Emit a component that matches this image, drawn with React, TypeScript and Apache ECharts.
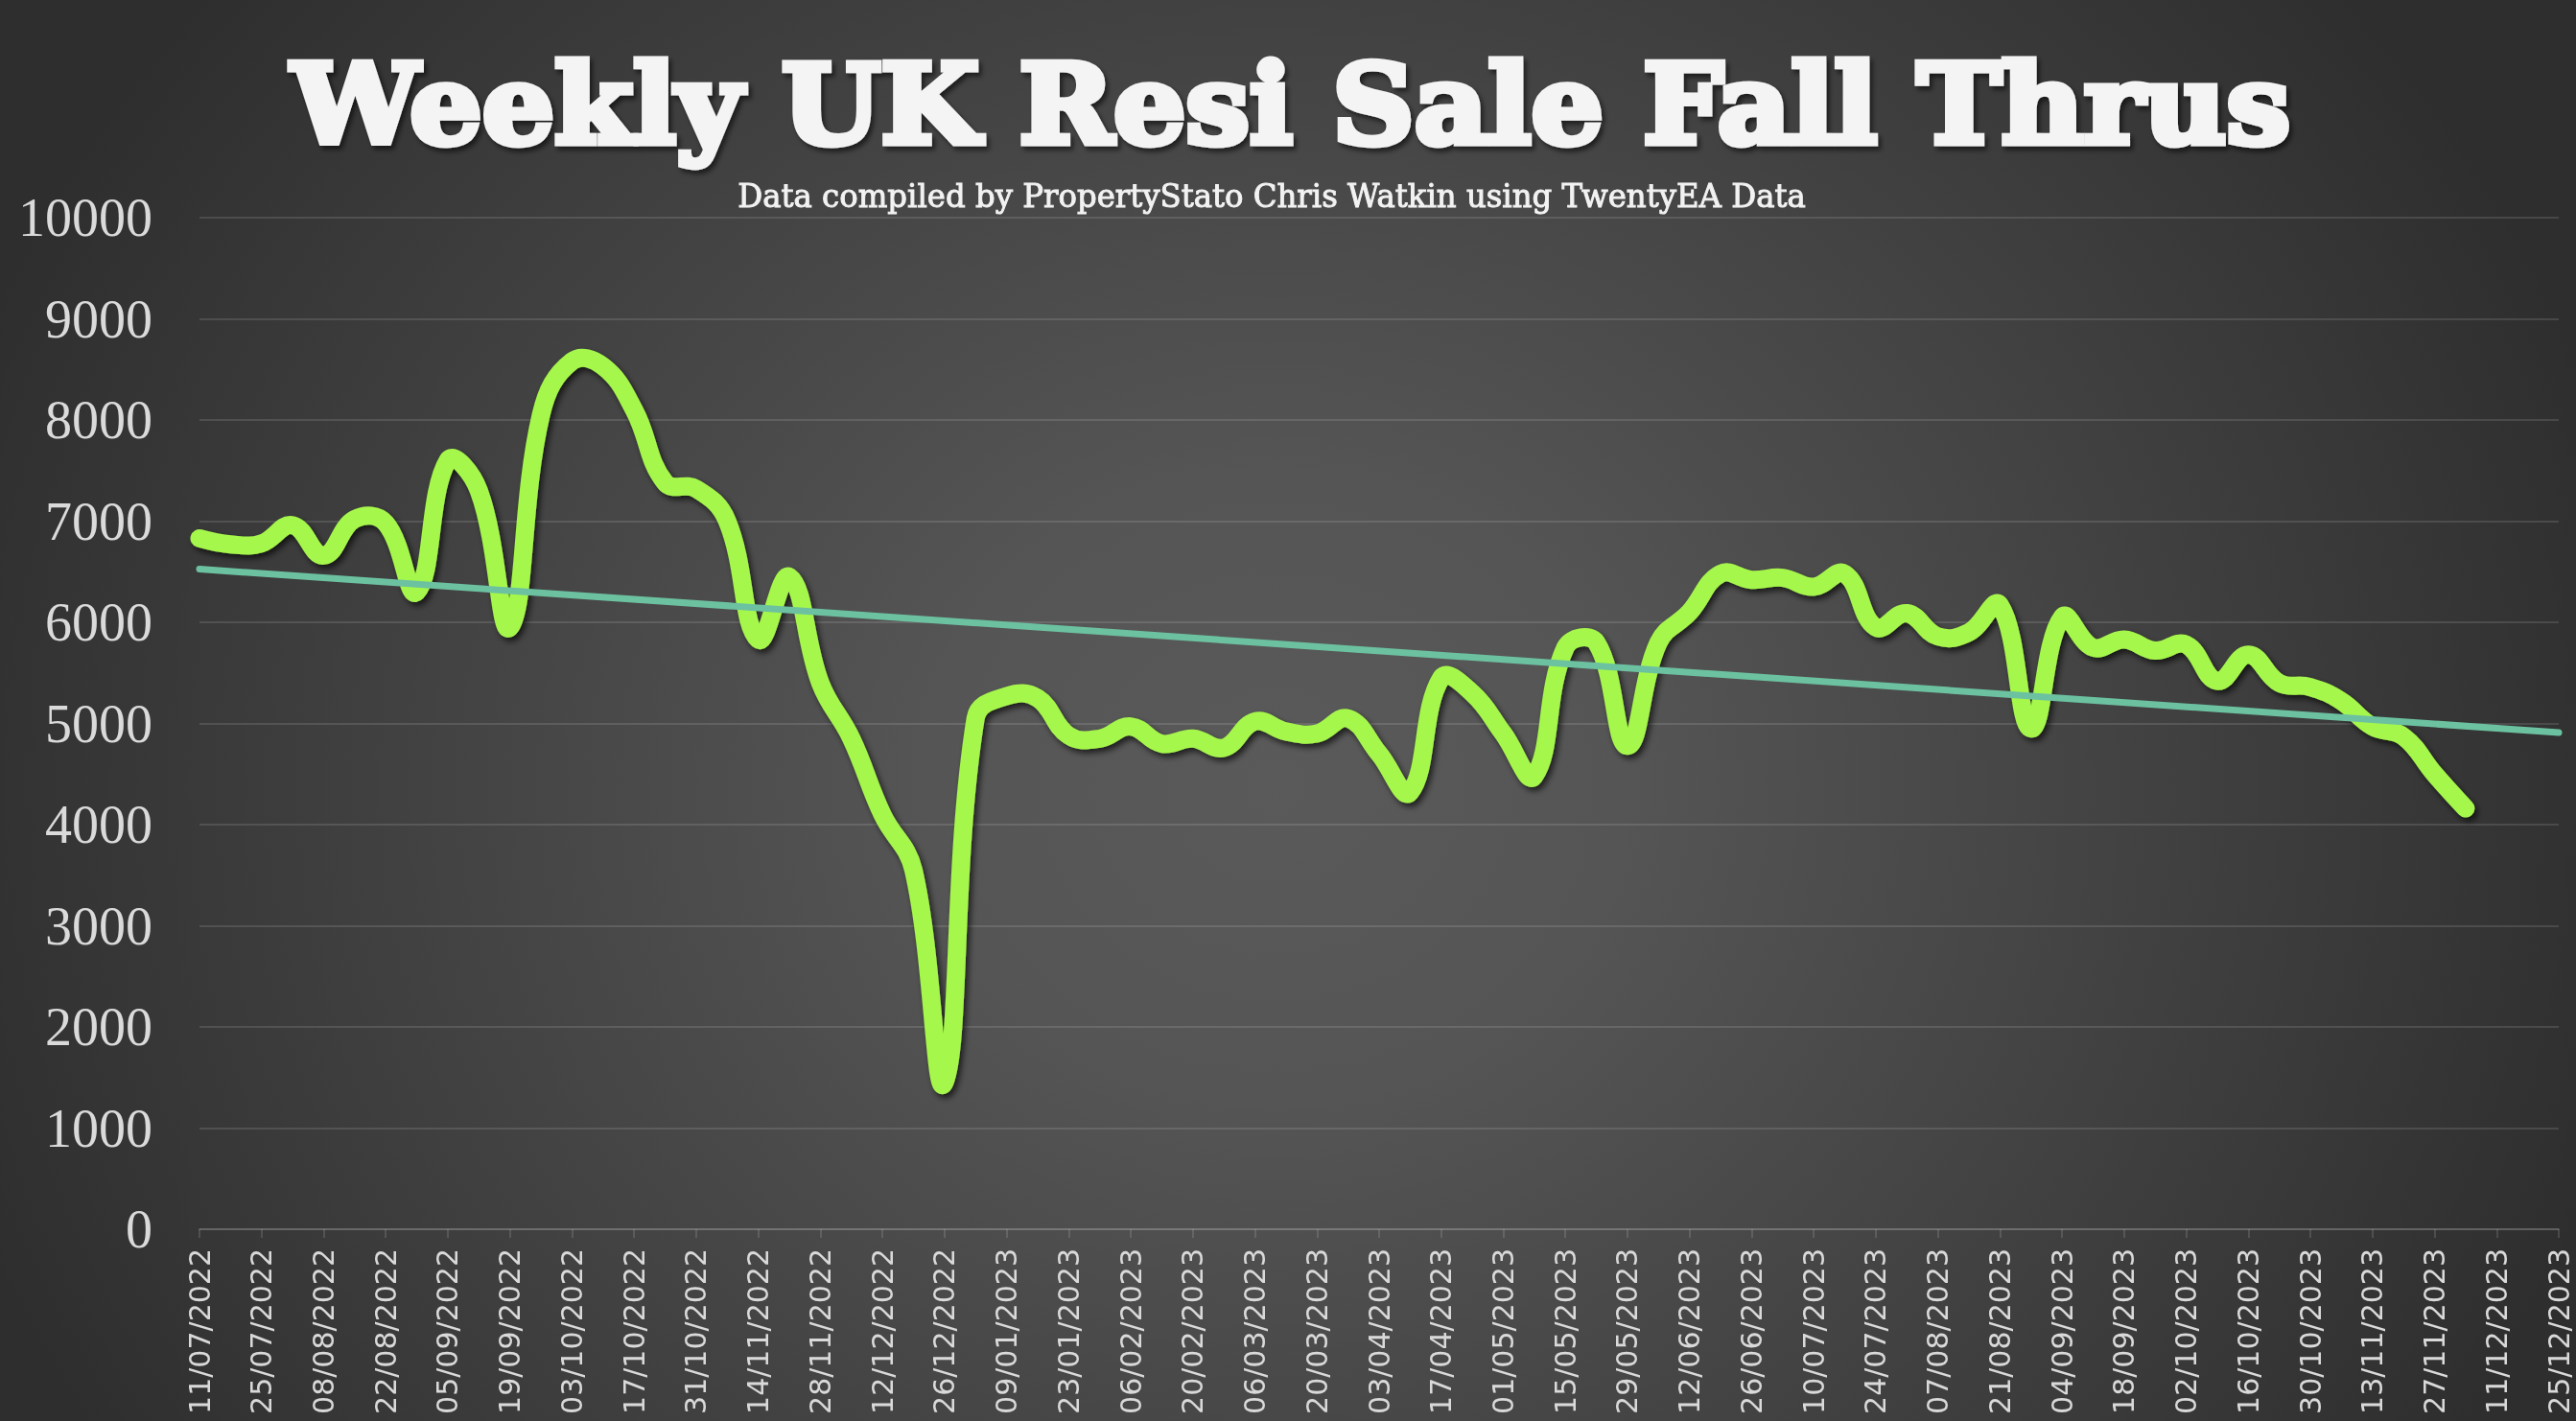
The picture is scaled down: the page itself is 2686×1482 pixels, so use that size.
import React, { useEffect, useRef } from 'react';
import * as echarts from 'echarts';

const TITLE = 'Weekly UK Resi Sale Fall Thrus';
const SUBTITLE = 'Data compiled by PropertyStato Chris Watkin using TwentyEA Data';

// first week and the number of weekly slots on the axis (11/07/2022 .. 25/12/2023)
const FIRST_WEEK = [2022, 7, 11];
const WEEK_SLOTS = 77;

// weekly fall-through counts, from 11/07/2022 to 04/12/2023
const values = [
  6830, 6770, 6780, 6960, 6660, 7020, 6980, 6300, 7600, 7300,
  5950, 8050, 8580, 8530, 8100, 7380, 7320, 7000, 5830, 6450,
  5400, 4850, 4100, 3550, 1450, 5050, 5270, 5250, 4880, 4850,
  4970, 4800, 4850, 4760, 5020, 4920, 4900, 5050, 4700, 4320,
  5450, 5300, 4900, 4480, 5750, 5800, 4780, 5800, 6100, 6480,
  6420, 6440, 6350, 6480, 5950, 6090, 5860, 5900, 6170, 4950,
  6050, 5750, 5830, 5720, 5780, 5420, 5680, 5400, 5360, 5220,
  4970, 4870, 4500, 4160,
];

// linear trend line end values (first week, last axis week)
const trendStart = 6525;
const trendEnd = 4910;

const yTicks = { min: 0, max: 10000, interval: 1000 };

function pad(n: number) {
  return n < 10 ? '0' + n : String(n);
}

function buildWeeks(): string[] {
  const out: string[] = [];
  const base = Date.UTC(FIRST_WEEK[0], FIRST_WEEK[1] - 1, FIRST_WEEK[2]);
  for (let i = 0; i < WEEK_SLOTS; i++) {
    const d = new Date(base + i * 7 * 86400000);
    out.push(pad(d.getUTCDate()) + '/' + pad(d.getUTCMonth() + 1) + '/' + d.getUTCFullYear());
  }
  return out;
}

const weeks = buildWeeks();

export default function App() {
  const ref = useRef<HTMLDivElement>(null);

  useEffect(() => {
    if (!ref.current) return;
    const chart = echarts.init(ref.current, undefined, { renderer: 'svg' });

    const ctx = document.createElement('canvas').getContext('2d');
    const measure = (font: string, text: string) => {
      if (!ctx) return 1;
      ctx.font = font;
      return ctx.measureText(text).width || 1;
    };
    const titleSize = 114;
    const titleStroke = 7;
    const subSize = 33;
    const titleScale = (2092 - titleStroke) / measure(`bold ${titleSize}px "DejaVu Serif"`, TITLE);
    const subScale = 1114 / measure(`${subSize}px "DejaVu Serif"`, SUBTITLE);

    const lineData = values.map((v, i) => [i, v]);

    chart.setOption({
      animation: false,
      backgroundColor: 'transparent',
      grid: { left: 208, right: 18, top: 227, bottom: 200, containLabel: false },
      graphic: [
        {
          type: 'text',
          x: 1346,
          y: 109,
          scaleX: titleScale,
          z: 10,
          style: {
            text: TITLE,
            fontSize: titleSize,
            fontFamily: 'DejaVu Serif',
            fontWeight: 'bold',
            fill: '#f4f4f4',
            stroke: '#f4f4f4',
            lineWidth: titleStroke,
            align: 'center',
            verticalAlign: 'middle',
            textAlign: 'center',
            textVerticalAlign: 'middle',
            textShadowColor: 'rgba(0,0,0,0.55)',
            textShadowBlur: 5,
            textShadowOffsetX: 3,
            textShadowOffsetY: 4,
          },
        },
        {
          type: 'text',
          x: 1326,
          y: 205,
          scaleX: subScale,
          z: 10,
          style: {
            text: SUBTITLE,
            fontSize: subSize,
            fontFamily: 'DejaVu Serif',
            fill: '#f2f2f2',
            stroke: '#f2f2f2',
            lineWidth: 1,
            align: 'center',
            verticalAlign: 'middle',
            textAlign: 'center',
            textVerticalAlign: 'middle',
          },
        },
      ],
      xAxis: {
        type: 'category',
        data: weeks,
        boundaryGap: false,
        axisLine: { show: true, lineStyle: { color: 'rgba(255,255,255,0.13)', width: 2 } },
        axisTick: {
          show: true,
          interval: 1,
          length: 9,
          lineStyle: { color: 'rgba(255,255,255,0.13)', width: 2 },
        },
        axisLabel: {
          interval: 1,
          rotate: 90,
          margin: 20,
          color: '#d9d9d9',
          fontFamily: 'DejaVu Sans',
          fontSize: 30,
        },
        splitLine: { show: false },
      },
      yAxis: {
        type: 'value',
        min: yTicks.min,
        max: yTicks.max,
        interval: yTicks.interval,
        axisLine: { show: false },
        axisTick: { show: false },
        axisLabel: {
          margin: 49,
          color: '#dadada',
          fontFamily: 'Liberation Serif',
          fontSize: 56,
          formatter: (v: number) => String(v),
        },
        splitLine: { show: true, lineStyle: { color: 'rgba(255,255,255,0.12)', width: 2 } },
      },
      series: [
        {
          type: 'custom',
          name: 'Fall thrus',
          coordinateSystem: 'cartesian2d',
          data: lineData,
          encode: { x: 0, y: 1 },
          silent: true,
          z: 3,
          renderItem: (params: any, api: any) => {
            if (params.dataIndex !== 0) return null;
            const points = lineData.map((d) => api.coord(d));
            return {
              type: 'polyline',
              shape: { points, smooth: 0.42 },
              style: {
                fill: 'none',
                stroke: '#a6f74c',
                lineWidth: 19,
                lineCap: 'round',
                lineJoin: 'round',
                shadowColor: 'rgba(0,0,0,0.65)',
                shadowBlur: 6,
                shadowOffsetX: 3,
                shadowOffsetY: 4,
              },
            };
          },
        },
        {
          type: 'line',
          name: 'Trend',
          data: [
            [weeks[0], trendStart],
            [weeks[WEEK_SLOTS - 1], trendEnd],
          ],
          showSymbol: false,
          symbol: 'none',
          silent: true,
          z: 4,
          lineStyle: { color: '#6cc1a0', width: 7, cap: 'round' },
        },
      ],
    });

    return () => chart.dispose();
  }, []);

  return (
    <div
      ref={ref}
      style={{
        position: 'fixed',
        left: 0,
        top: 0,
        width: 2686,
        height: 1482,
        background:
          'radial-gradient(ellipse 1450px 1300px at 1330px 820px, #5a5a5a 0%, #555555 25%, #2e2e2e 100%)',
      }}
    />
  );
}
